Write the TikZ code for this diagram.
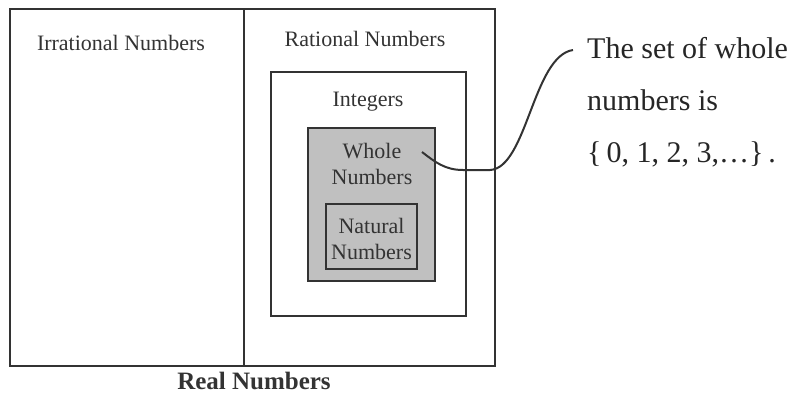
\documentclass[tikz,border=0pt]{standalone}
\usepackage{fontspec}
\setmainfont{Liberation Serif}
\definecolor{ink}{HTML}{333333}
\definecolor{wfill}{HTML}{C0C0C0}
\begin{document}
\begin{tikzpicture}[x=1pt,y=-1pt,
  setbox/.style={draw=ink, line width=2pt, rectangle, inner sep=0pt, outer sep=0pt},
  lbl/.style={text=ink, font=\fontsize{22}{26}\selectfont, inner sep=0pt, align=center},
  note/.style={text=black!85, font=\fontsize{30}{52}\selectfont, inner sep=0pt, align=left},
  conn/.style={draw=ink, line width=2pt}]
\useasboundingbox (0,0) rectangle (788,394);
\node[setbox, minimum width=485pt, minimum height=357pt] (real) at (252.5,187.5) {};
\coordinate (dtop) at (244,9);
\coordinate (dbot) at (244,366);
\draw[conn] (dtop) -- (dbot);
\node[setbox, minimum width=195pt, minimum height=244pt] (int) at (368,194) {};
\node[setbox, fill=wfill, minimum width=127pt, minimum height=153pt] (whole) at (371.5,204.5) {};
\node[setbox, minimum width=91pt, minimum height=65pt] (nat) at (371.5,236.5) {};
\node[lbl] (irrl) at (121,43) {Irrational Numbers};
\node[lbl] (ratl) at (365,39) {Rational Numbers};
\node[lbl] (intl) at (368,102) {Integers};
\node[lbl] (wholel) at (372,164) {Whole\\Numbers};
\node[lbl] (natl) at (371.5,239) {Natural\\Numbers};
\node[text=ink, font=\fontsize{25}{28}\selectfont\bfseries, inner sep=0pt] (reall) at (254,381) {Real Numbers};
\node[note, anchor=north west] (txt) at (587,37) {The set of whole\\numbers is\\\{\,0, 1, 2, 3,\ldots\}\,.};
\coordinate (cs) at (422,152);
\coordinate (ce) at (573,50);
\draw[conn] (cs) .. controls (435,162) and (445,170) .. (463,170) -- (490,170)
  .. controls (527,168) and (533,56) .. (ce);
\end{tikzpicture}
\end{document}
